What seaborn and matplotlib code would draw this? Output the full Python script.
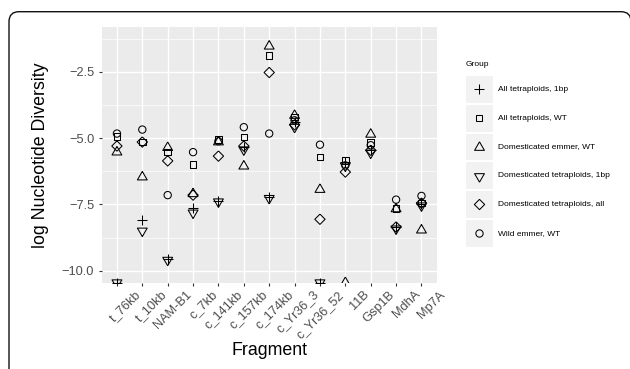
import numpy as np
import pandas as pd
import matplotlib
matplotlib.use("Agg")
import matplotlib.pyplot as plt
import matplotlib.transforms as mtrans
from matplotlib.patches import FancyBboxPatch, Rectangle
from matplotlib.lines import Line2D
import seaborn as sns

# ---------------- data (log nucleotide diversity; -inf = log(0)) ----------------
fragments = ["t_76kb", "t_10kb", "NAM-B1", "c_7kb", "c_141kb", "c_157kb", "c_174kb",
             "c_Yr36_3", "c_Yr36_52", "11B", "Gsp1B", "MdhA", "Mp7A"]
groups = ["All tetraploids, 1bp", "All tetraploids, WT", "Domesticated emmer, WT",
          "Domesticated tetraploids, 1bp", "Domesticated tetraploids, all", "Wild emmer, WT"]

NEG_INF = -np.inf
all_tetra_1bp = [NEG_INF, -8.09, -9.55, -7.65, -7.37, -5.35, -7.22, -4.40, NEG_INF, -5.90, -5.44, -8.35, -7.48]
all_tetra_wt = [-4.94, -5.15, -5.52, -5.99, -5.05, -4.96, -1.89, -4.21, -5.71, -5.84, -5.17, -7.66, -7.45]
dom_emmer_wt = [-5.53, -6.47, -5.36, -7.10, -5.15, -6.06, -1.54, -4.15, -6.94, NEG_INF, -4.86, -7.67, -8.47]
dom_tetra_1bp = [NEG_INF, -8.50, -9.60, -7.82, -7.40, -5.44, -7.27, -4.59, NEG_INF, -6.05, -5.56, -8.42, -7.55]
dom_tetra_all = [-5.30, -5.15, -5.86, -7.15, -5.68, -5.30, -2.53, -4.50, -8.06, -6.28, -5.46, -8.35, -7.45]
wild_emmer_wt = [-4.83, -4.68, -7.15, -5.53, -5.12, -4.59, -4.83, -4.33, -5.25, -6.03, -5.27, -7.32, -7.18]

series = [all_tetra_1bp, all_tetra_wt, dom_emmer_wt, dom_tetra_1bp, dom_tetra_all, wild_emmer_wt]
y_ticks = [-2.5, -5.0, -7.5, -10.0]
y_tick_labels = ["\u22122.5", "\u22125.0", "\u22127.5", "\u221210.0"]

# ---------------- style ----------------
DPI = 100
W, H = 630, 369
YMIN, YMAX = -10.45, -0.815
PX_PT = DPI / 72.0
R = 3.65  # R-style marker radius in px

tri_up = [(0, 1.555), (1.347, -0.778), (-1.347, -0.778), (0, 1.555)]
tri_dn = [(0, -1.555), (1.347, 0.778), (-1.347, 0.778), (0, -1.555)]
diamond = [(0, 1.414), (1.414, 0), (0, -1.414), (-1.414, 0), (0, 1.414)]

marker_specs = {
    groups[0]: ("+", 2.828 * R / PX_PT),
    groups[1]: ("s", 1.772 * R / PX_PT),
    groups[2]: (tri_up, 2 * 1.555 * R / PX_PT),
    groups[3]: (tri_dn, 2 * 1.555 * R / PX_PT),
    groups[4]: (diamond, 2 * 1.414 * R / PX_PT),
    groups[5]: ("o", 2 * R / PX_PT),
}
LW = 0.75

sns.set_theme(style="darkgrid", rc={"axes.facecolor": "#EBEBEB", "grid.color": "white"})
plt.rcParams["font.family"] = ["Liberation Sans", "DejaVu Sans"]

records = []
for g, vals in zip(groups, series):
    for f, v in zip(fragments, vals):
        records.append({"Fragment": f, "Group": g, "log_div": v})
df = pd.DataFrame(records)
df["y_plot"] = df["log_div"].clip(lower=YMIN)  # -inf drawn at panel edge like ggplot

fig = plt.figure(figsize=(W / DPI, H / DPI), dpi=DPI)
ax = fig.add_axes([101.7 / W, 1 - 282.7 / H, 335.0 / W, (282.7 - 27.0) / H])

for g in groups:
    sub = df[df["Group"] == g]
    mk, ms = marker_specs[g]
    if mk == "+":
        sns.scatterplot(data=sub, x="Fragment", y="y_plot", marker=mk, s=ms ** 2,
                        color="black", linewidth=LW, ax=ax, legend=False, zorder=3)
    else:
        sns.scatterplot(data=sub, x="Fragment", y="y_plot", marker=mk, s=ms ** 2,
                        facecolor="none", edgecolor="black", linewidth=LW,
                        ax=ax, legend=False, zorder=3)

ax.set_xlim(-0.6, len(fragments) - 1 + 0.6)
ax.set_ylim(YMIN, YMAX)
ax.set_xticks(range(len(fragments)))
ax.set_xticklabels(fragments)
ax.set_yticks(y_ticks)
ax.set_yticklabels(y_tick_labels)
ax.set_yticks([-1.25, -3.75, -6.25, -8.75], minor=True)
ax.grid(which="major", color="white", linewidth=1.0)
ax.grid(which="minor", axis="y", color="white", linewidth=0.5)
ax.set_axisbelow(True)
for sp in ax.spines.values():
    sp.set_visible(False)

ax.tick_params(axis="both", which="major", direction="out", length=2.2, width=0.8,
               color="#333333", labelcolor="#4D4D4D", labelsize=9.2)
ax.tick_params(axis="y", which="major", pad=3.2, left=True)
ax.tick_params(axis="x", which="major", pad=2.0, bottom=True)
ax.tick_params(which="minor", length=0)

for lab in ax.get_xticklabels():
    lab.set_rotation(45)
    lab.set_ha("right")
    lab.set_va("top")
    lab.set_rotation_mode("anchor")
    lab.set_transform(lab.get_transform() + mtrans.ScaledTranslation(18 / DPI, 0, fig.dpi_scale_trans))

ax.set_xlabel("Fragment", fontsize=12.8, color="black", va="center")
ax.xaxis.set_label_coords(0.5, -(350.5 - 282.7) / (282.7 - 27.0))
ax.set_ylabel("log Nucleotide Diversity", fontsize=12.8, color="black", va="center")
ax.yaxis.set_label_coords(-(101.7 - 41.0) / 335.0, 0.5)

# ---------------- legend (ggplot style) ----------------
def fx(px):
    return px / W

def fy(py):
    return 1 - py / H

fig.text(fx(465.3), fy(65), "Group", fontsize=6.0, ha="left", va="center", color="black")
key_centers = [89.3, 118.3, 147.0, 175.7, 204.3, 233.3]
KEY = 26.7
for g, yc in zip(groups, key_centers):
    fig.add_artist(Rectangle((fx(466), fy(yc + KEY / 2)), KEY / W, KEY / H,
                             transform=fig.transFigure, facecolor="#F2F2F2",
                             edgecolor="none"))
    mk, ms = marker_specs[g]
    if mk == "+":
        ln = Line2D([fx(466 + KEY / 2)], [fy(yc)], marker="+", markersize=ms,
                    color="black", markeredgewidth=LW, linestyle="none",
                    transform=fig.transFigure)
    else:
        ln = Line2D([fx(466 + KEY / 2)], [fy(yc)], marker=mk, markersize=ms,
                    markerfacecolor="none", markeredgecolor="black",
                    markeredgewidth=LW, linestyle="none", transform=fig.transFigure)
    fig.add_artist(ln)
    fig.text(fx(497.7), fy(yc), g, fontsize=6.0, ha="left", va="center", color="black")

# ---------------- outer rounded frame ----------------
frame = FancyBboxPatch((9, -30), 622, (H - 11.7) + 30,
                       boxstyle="round,pad=0,rounding_size=10",
                       transform=mtrans.IdentityTransform(),
                       facecolor="none", edgecolor="#111111", linewidth=1.0)
fig.add_artist(frame)

fig.savefig("out.png", dpi=DPI)
